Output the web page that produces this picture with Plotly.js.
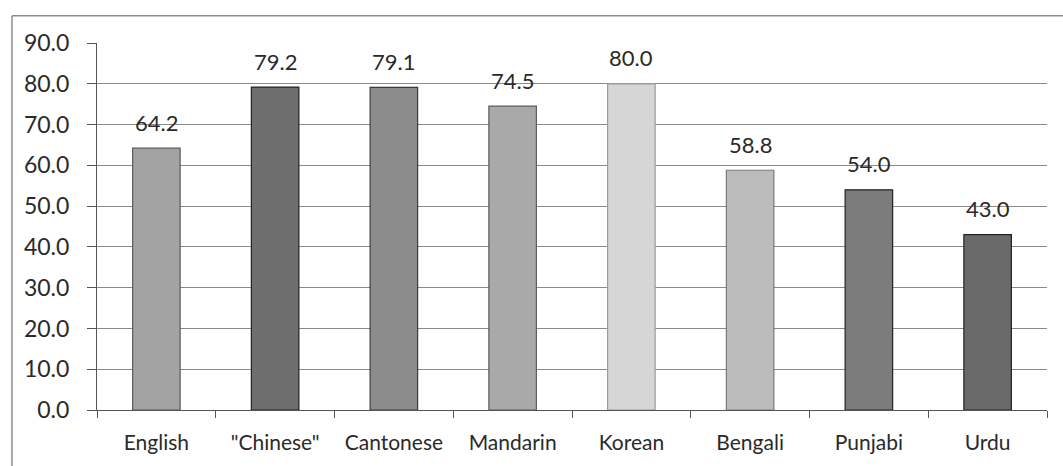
<!DOCTYPE html>
<html>
<head>
<meta charset="utf-8">
<script src="https://cdn.plot.ly/plotly-3.0.1.min.js"></script>
<style>
  html, body { margin: 0; padding: 0; background: #fff; }
  #chart { width: 1063px; height: 466px; }
</style>
</head>
<body>
<div id="chart"></div>
<script>
const languages = ['English', '"Chinese"', 'Cantonese', 'Mandarin', 'Korean', 'Bengali', 'Punjabi', 'Urdu'];
const values = [64.2, 79.2, 79.1, 74.5, 80.0, 58.8, 54.0, 43.0];
const barColors = ['#a3a3a3', '#6e6e6e', '#8c8c8c', '#a9a9a9', '#d6d6d6', '#bcbcbc', '#7c7c7c', '#6a6a6a'];
const edgeColors = ['#5a5a5a', '#222222', '#3a3a3a', '#5a5a5a', '#9a9a9a', '#7a7a7a', '#222222', '#222222'];
const yTicks = [0, 10, 20, 30, 40, 50, 60, 70, 80, 90];

const FONT = 'Lato, "Open Sans", sans-serif';
const TXT = '#2a2a2a';

const trace = {
  type: 'bar',
  x: languages,
  y: values,
  marker: { color: barColors, line: { color: edgeColors, width: 1.2 } },
  hoverinfo: 'x+y',
  cliponaxis: false
};

const annotations = languages.map((lang, i) => ({
  x: lang, y: values[i], xref: 'x', yref: 'y',
  text: values[i].toFixed(1),
  showarrow: false, yanchor: 'middle', yshift: 26,
  font: { family: FONT, size: 22, color: TXT }
}));

const layout = {
  width: 1063, height: 466,
  margin: { l: 97, r: 16, t: 43, b: 56 },
  paper_bgcolor: '#ffffff',
  plot_bgcolor: '#ffffff',
  showlegend: false,
  bargap: 0.6,
  font: { family: FONT, size: 22, color: TXT },
  xaxis: {
    type: 'category',
    tickson: 'boundaries',
    ticks: 'outside', ticklen: 7, tickcolor: '#555', tickwidth: 1,
    showline: true, linecolor: '#555', linewidth: 1,
    showgrid: false,
    tickfont: { family: FONT, size: 21, color: TXT },
    ticklabelstandoff: 14,
    fixedrange: true
  },
  yaxis: {
    range: [0, 90],
    tickvals: yTicks,
    ticktext: yTicks.map(v => v.toFixed(1)),
    ticks: 'outside', ticklen: 9, tickcolor: '#555', tickwidth: 1,
    showline: true, linecolor: '#555', linewidth: 1,
    showgrid: true, gridcolor: '#8a8a8a', gridwidth: 1,
    zeroline: false,
    tickfont: { family: FONT, size: 23, color: TXT },
    ticklabelstandoff: 13,
    fixedrange: true
  },
  annotations: annotations,
  shapes: [
    {
      type: 'path', xref: 'paper', yref: 'paper',
      path: 'M -0.0895,-0.2 L -0.0895,1.074 L 1.2,1.074',
      line: { color: '#555', width: 1 }
    }
  ]
};

Plotly.newPlot('chart', [trace], layout, { displayModeBar: false, staticPlot: true });
</script>
</body>
</html>
